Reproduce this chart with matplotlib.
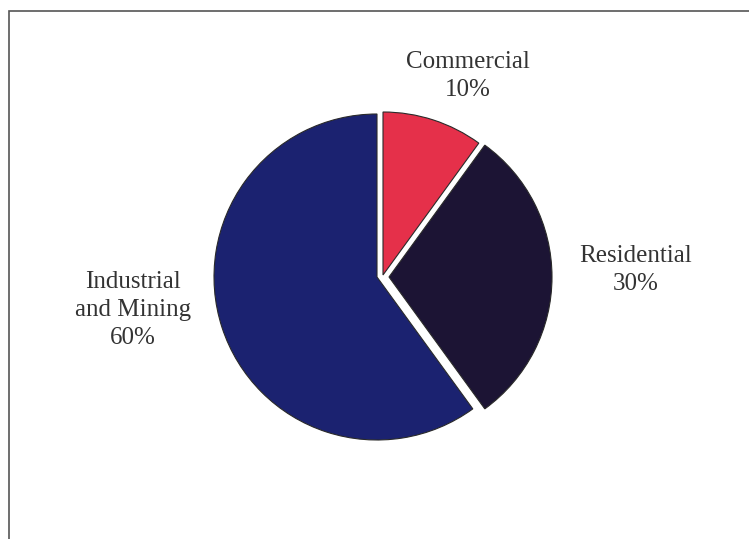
import matplotlib
matplotlib.use('Agg')
import matplotlib.pyplot as plt
from matplotlib.patches import Rectangle

# Energy use by sector
sectors = ['Commercial', 'Residential', 'Industrial\nand Mining']
shares = [10, 30, 60]
colors = ['#e5304a', '#1c1434', '#1b2270']

# pull-out of each wedge in pixels (dx right, dy up)
wedge_shift = [(6, 2), (12, 0), (0, 0)]

# label anchors in pixel units (x, y from top)
label_pos = [(468, 76), (636, 270), (133, 310)]

W, H = 749, 539
R = 163
cx, cy = 377, H - 277

fig = plt.figure(figsize=(W / 100, H / 100), dpi=100)
ax = fig.add_axes([0, 0, 1, 1])

# outer frame, runs off the right and bottom edges
ax.add_patch(Rectangle((9, -20), W + 20, H - 11 + 20, fill=False,
                       edgecolor='#555555', linewidth=1.2))

wedges, _ = ax.pie(shares, colors=colors, startangle=90, counterclock=False,
                   center=(cx, cy), radius=R, frame=True,
                   wedgeprops=dict(edgecolor='#2a2a2a', linewidth=0.8))
for w, (dx, dy) in zip(wedges, wedge_shift):
    w.set_center((cx + dx, cy + dy))

ax.set_xlim(0, W)
ax.set_ylim(0, H)
ax.set_aspect('equal')
ax.axis('off')

for name, val, (x, y) in zip(sectors, shares, label_pos):
    ax.text(x, H - y, f"{name}\n{val}%", ha='center', va='center',
            fontsize=18, family='Liberation Serif', color='#333333',
            linespacing=1.35)

fig.savefig('out.png', dpi=100, facecolor='white')
